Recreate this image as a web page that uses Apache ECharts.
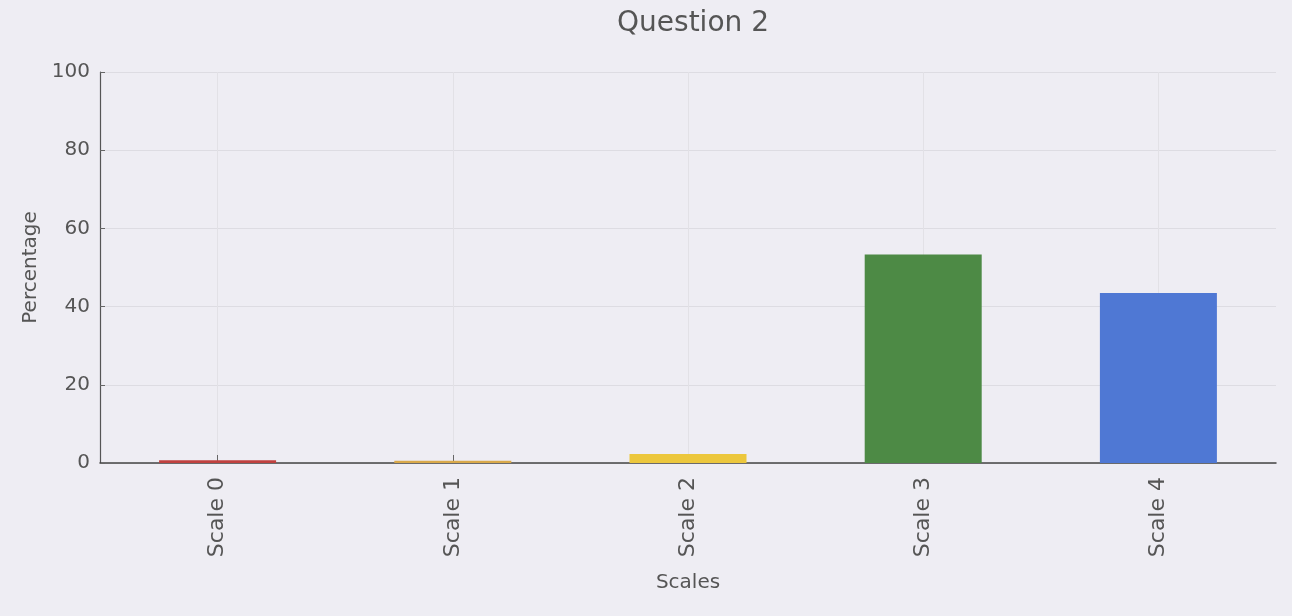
<!DOCTYPE html>
<html>
<head>
<meta charset="utf-8">
<script src="https://cdn.jsdelivr.net/npm/echarts@6/dist/echarts.min.js"></script>
<style>
  html, body { margin: 0; padding: 0; background: #eeedf3; }
  #box { width: 1292px; height: 616px; }
</style>
</head>
<body>
<div id="box"></div>
<script>
var categories = ['Scale 0', 'Scale 1', 'Scale 2', 'Scale 3', 'Scale 4'];
var percentages = [0.7, 0.6, 2.3, 53.3, 43.5];
var barColors = ['#c0413f', '#d9a94a', '#ecc73c', '#4d8a45', '#4f78d4'];
var yTicks = [0, 20, 40, 60, 80, 100];

var chart = echarts.init(document.getElementById('box'));

var font = 'DejaVu Sans';

var option = {
    backgroundColor: '#eeedf3',
    title: {
        text: 'Question 2',
        left: 688,
        top: 5,
        textAlign: 'center',
        textStyle: { fontFamily: font, fontSize: 28, fontWeight: 'normal', color: '#555' }
    },
    grid: { left: 100, right: 16, top: 72, bottom: 153 },
    xAxis: {
        type: 'value',
        min: -0.5,
        max: 4.5,
        name: 'Scales',
        nameLocation: 'middle',
        nameGap: 110,
        nameTextStyle: { fontFamily: font, fontSize: 20, color: '#555' },
        axisLine: { show: true, onZero: false, lineStyle: { color: '#444', width: 1.5 } },
        axisTick: { show: true, inside: true, length: 8, customValues: [0, 1, 2, 3, 4], lineStyle: { color: '#666' } },
        axisLabel: {
            customValues: [0, 1, 2, 3, 4],
            rotate: 90,
            margin: 14,
            fontFamily: font,
            fontSize: 22,
            color: '#555',
            formatter: function (v) { return categories[Math.round(v)]; }
        },
        splitLine: { show: true, lineStyle: { color: '#e2e1e6', width: 1 } }
    },
    yAxis: {
        type: 'value',
        min: 0,
        max: 100,
        interval: 20,
        name: 'Percentage',
        nameLocation: 'middle',
        nameGap: 56,
        nameTextStyle: { fontFamily: font, fontSize: 20, color: '#555' },
        axisLine: { show: true, onZero: false, lineStyle: { color: '#555', width: 1.2 } },
        axisTick: { show: true, inside: true, length: 5, lineStyle: { color: '#666' } },
        axisLabel: {
            margin: 10,
            fontFamily: font,
            fontSize: 20,
            color: '#555',
            customValues: yTicks
        },
        splitLine: { show: true, lineStyle: { color: '#dddce2', width: 1 } }
    },
    series: [
        {
            type: 'bar',
            barWidth: 117,
            data: percentages.map(function (v, i) {
                return { value: [i, v], itemStyle: { color: barColors[i] } };
            })
        }
    ]
};

chart.setOption(option);
</script>
</body>
</html>
